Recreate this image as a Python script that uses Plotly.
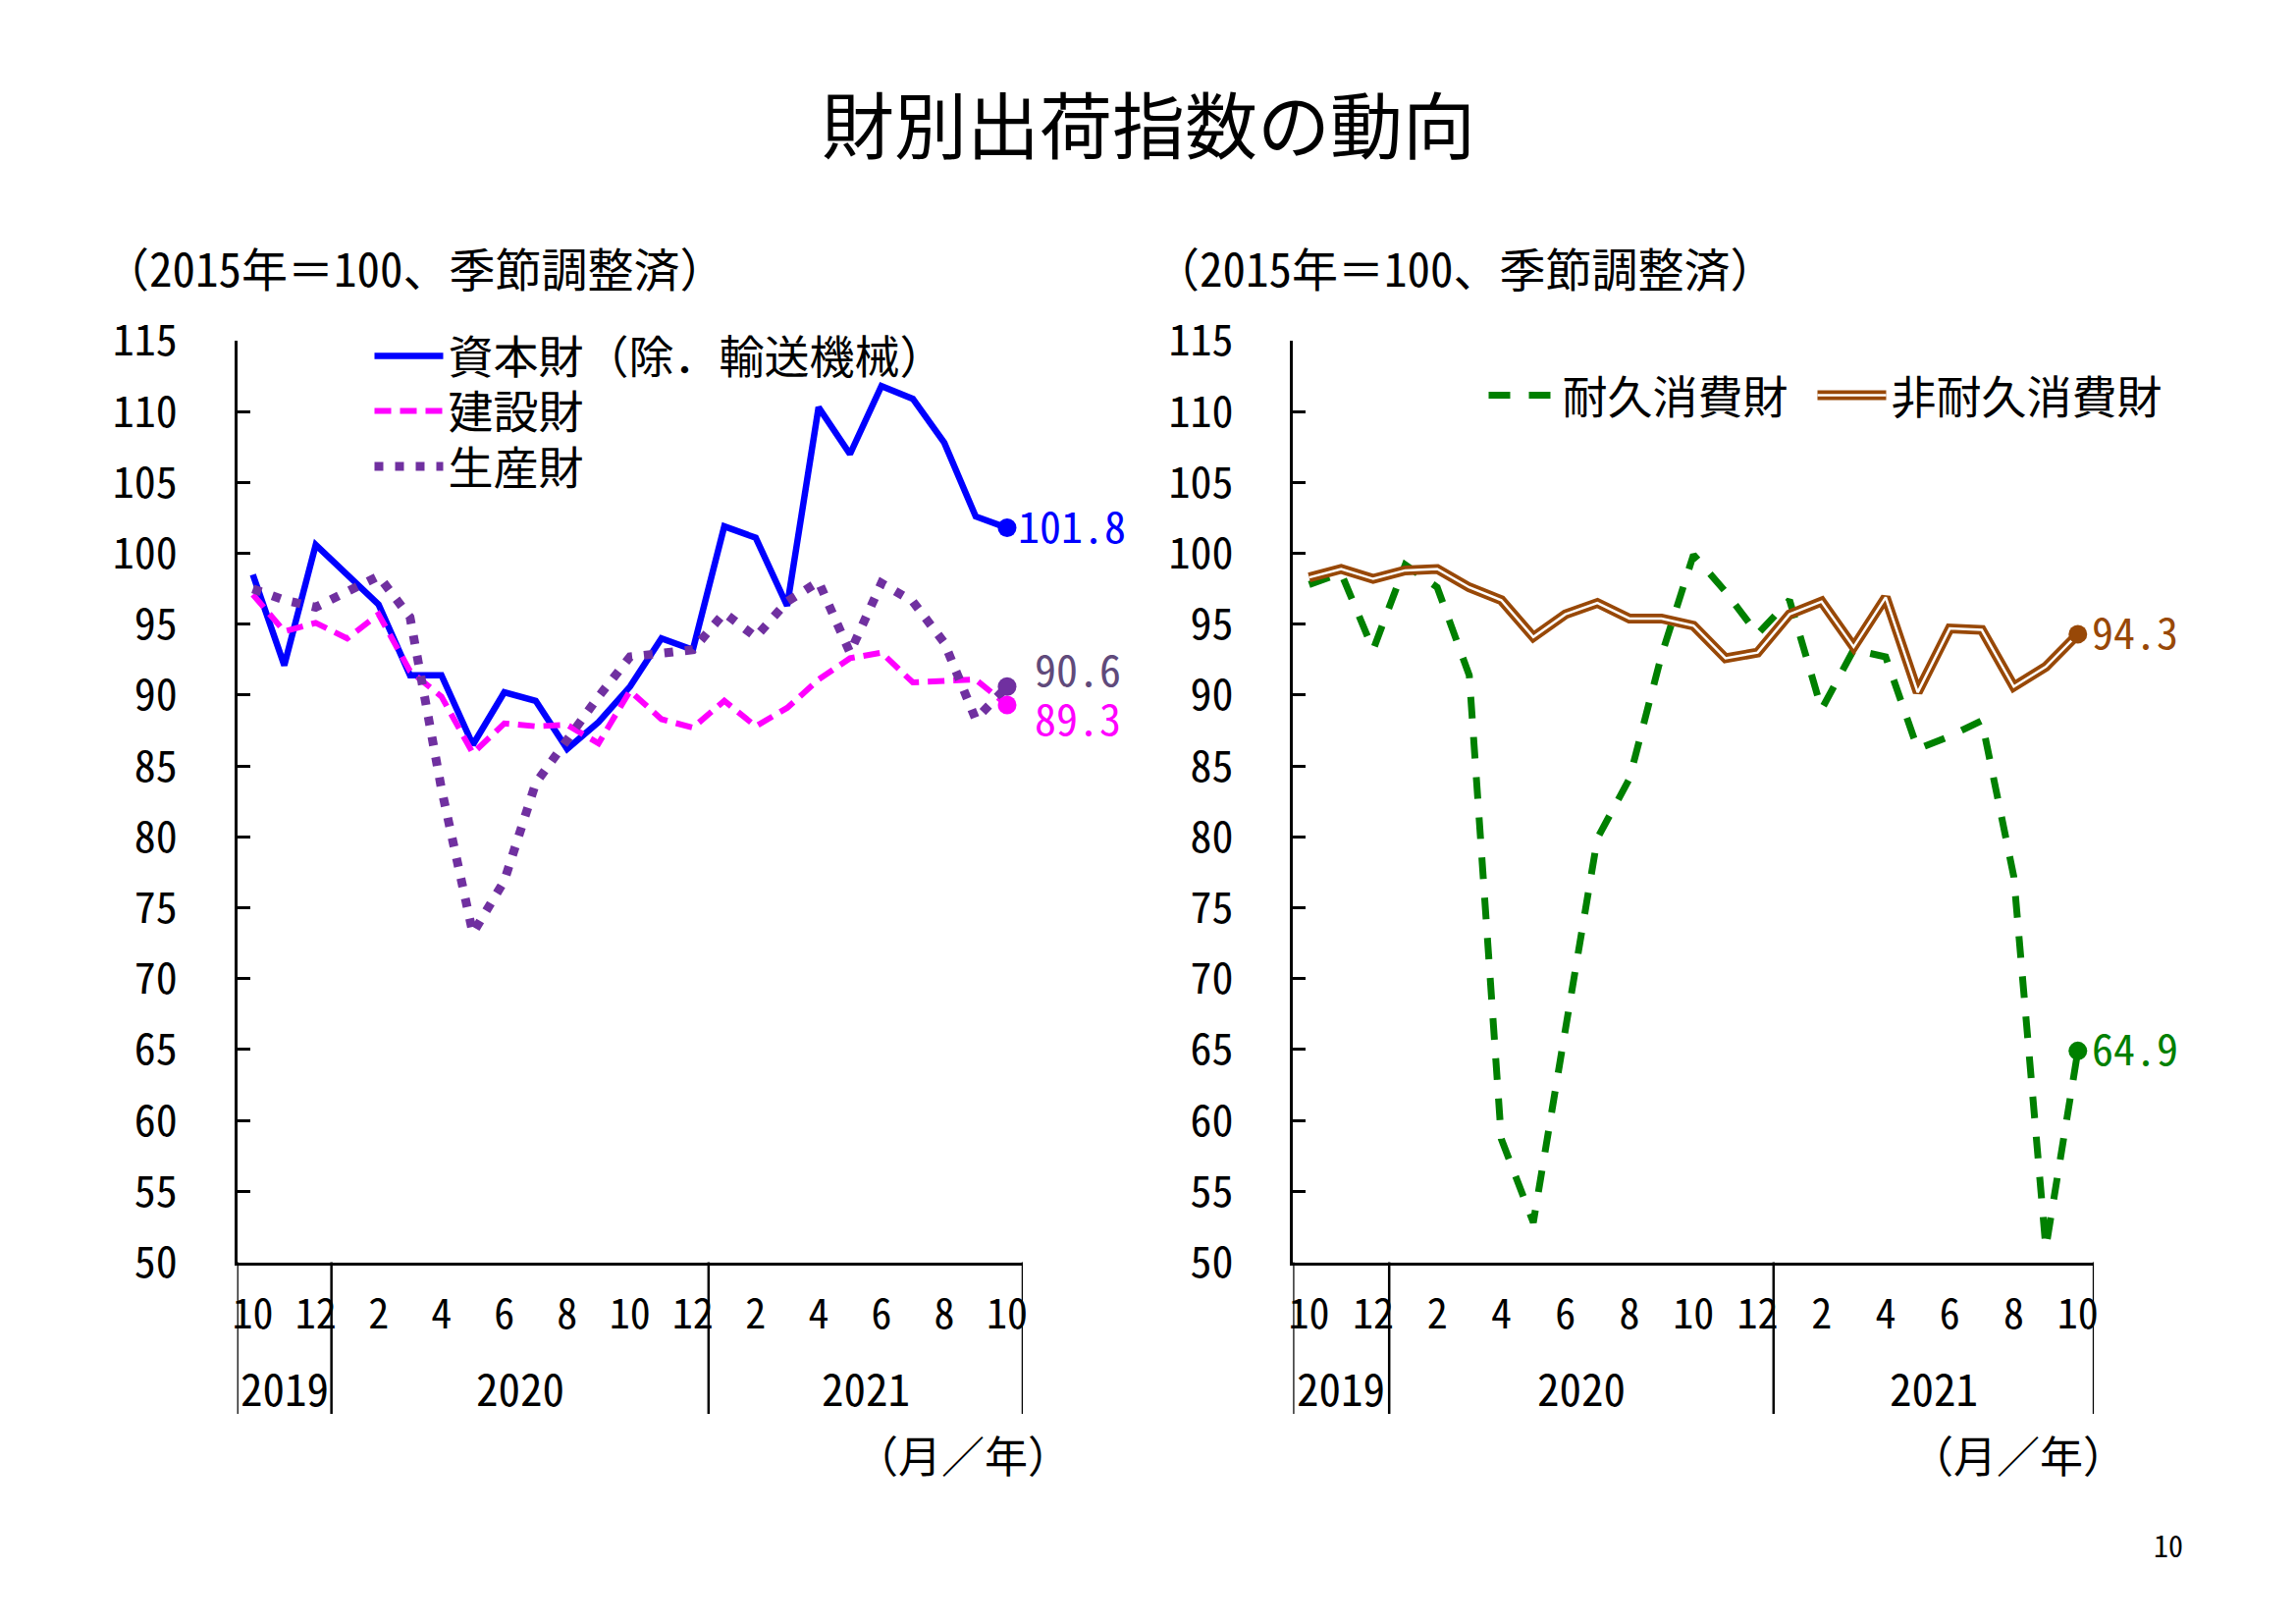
import plotly.graph_objects as go

# ---------------- data ----------------
months = ["2019/10", "2019/11", "2019/12",
          "2020/1", "2020/2", "2020/3", "2020/4", "2020/5", "2020/6",
          "2020/7", "2020/8", "2020/9", "2020/10", "2020/11", "2020/12",
          "2021/1", "2021/2", "2021/3", "2021/4", "2021/5", "2021/6",
          "2021/7", "2021/8", "2021/9", "2021/10"]

capital = [98.5, 92.1, 100.6, 98.5, 96.4, 91.4, 91.4, 86.5, 90.2, 89.6, 86.2, 88.1,
           90.6, 94.0, 93.2, 101.9, 101.1, 96.3, 110.3, 107.0, 111.8, 110.9, 107.8,
           102.6, 101.8]
construction = [97.1, 94.5, 95.1, 94.0, 95.7, 91.7, 89.9, 85.9, 88.0, 87.8, 87.9, 86.6,
                90.3, 88.3, 87.7, 89.6, 87.8, 89.1, 91.1, 92.6, 93.0, 90.9, 91.0,
                91.1, 89.3]
producer = [97.5, 96.7, 96.2, 97.3, 98.4, 95.5, 83.4, 73.2, 76.9, 83.8, 86.9, 89.9,
            92.7, 92.9, 93.2, 95.8, 94.1, 96.6, 98.0, 93.0, 97.9, 96.6, 93.7,
            88.3, 90.6]
durable = [97.8, 98.6, 93.2, 99.2, 97.6, 91.4, 58.7, 52.8, 66.4, 79.9, 84.1, 92.8,
           99.9, 97.3, 94.3, 96.7, 89.0, 93.2, 92.7, 86.2, 87.1, 88.2, 77.2,
           51.0, 64.9]
nondurable = [98.3, 98.9, 98.2, 98.8, 98.9, 97.6, 96.7, 94.1, 95.7, 96.5, 95.4, 95.4,
              94.9, 92.6, 93.0, 95.7, 96.6, 93.4, 96.9, 90.2, 94.7, 94.6, 90.6,
              92.0, 94.3]

names_left = ["資本財（除．輸送機械）", "建設財", "生産財"]
names_right = ["耐久消費財", "非耐久消費財"]

title_text = "財別出荷指数の動向"
subtitle_text = "（2015年＝100、季節調整済）"
unit_text = "（月／年）"
page_text = "10"

# ---------------- styling ----------------
FONT = "Noto Sans Mono CJK JP, Noto Sans CJK JP, sans-serif"
BLUE = "#0000FF"
MAGENTA = "#FF00FF"
PURPLE = "#7030A0"
PURPLE_LBL = "#604A7B"
GREEN = "#008000"
BROWN = "#984807"

W, H = 2339, 1654
def px_x(v):
    return v / W
def px_y(v):
    return 1 - v / H

Y_TOP, Y_BOT = 347.0, 1285.5
LEFT_DOM = [px_x(241.6), px_x(1042.0)]
RIGHT_DOM = [px_x(1317.3), px_x(2133.1)]
Y_DOM = [px_y(Y_BOT), px_y(Y_TOP)]

month_ticktext = [m.split("/")[1] for m in months]
tickvals = months[::2]
ticktext = month_ticktext[::2]

fig = go.Figure()

# left panel
fig.add_trace(go.Scatter(x=months, y=capital, name=names_left[0], mode="lines",
                         line=dict(color=BLUE, width=6.5), xaxis="x", yaxis="y",
                         legend="legend"))
fig.add_trace(go.Scatter(x=months, y=construction, name=names_left[1], mode="lines",
                         line=dict(color=MAGENTA, width=6, dash="17px,9px"),
                         xaxis="x", yaxis="y", legend="legend2"))
fig.add_trace(go.Scatter(x=months, y=producer, name=names_left[2], mode="lines",
                         line=dict(color=PURPLE, width=9, dash="9px,12px"),
                         xaxis="x", yaxis="y", legend="legend3"))
for ser, col in [(capital, BLUE), (producer, PURPLE), (construction, MAGENTA)]:
    fig.add_trace(go.Scatter(x=[months[-1]], y=[ser[-1]], mode="markers",
                             marker=dict(color=col, size=19), showlegend=False,
                             xaxis="x", yaxis="y"))

# right panel
fig.add_trace(go.Scatter(x=months, y=durable, name=names_right[0], mode="lines",
                         line=dict(color=GREEN, width=7, dash="22px,19px"),
                         xaxis="x2", yaxis="y2", legend="legend4"))
fig.add_trace(go.Scatter(x=months, y=nondurable, name=names_right[1], mode="lines",
                         line=dict(color=BROWN, width=10),
                         xaxis="x2", yaxis="y2", legend="legend5"))
fig.add_trace(go.Scatter(x=months, y=nondurable, name="", mode="lines",
                         line=dict(color="white", width=2.5), hoverinfo="skip",
                         xaxis="x2", yaxis="y2", legend="legend6"))
for ser, col in [(durable, GREEN), (nondurable, BROWN)]:
    fig.add_trace(go.Scatter(x=[months[-1]], y=[ser[-1]], mode="markers",
                             marker=dict(color=col, size=19), showlegend=False,
                             xaxis="x2", yaxis="y2"))

# axes
def xaxis_cfg(domain, anchor):
    return dict(domain=domain, anchor=anchor, type="category",
                categoryorder="array", categoryarray=months,
                range=[-0.5, len(months) - 0.5], showline=True, linecolor="black",
                linewidth=3, ticks="", tickvals=tickvals, ticktext=ticktext,
                tickfont=dict(size=42, color="black", family=FONT),
                ticklabelstandoff=14, showgrid=False, zeroline=False, fixedrange=True)

def yaxis_cfg(anchor):
    return dict(domain=Y_DOM, anchor=anchor, range=[50, 115], dtick=5, tick0=50,
                ticks="inside", ticklen=13, tickwidth=3, tickcolor="black",
                showline=True, linecolor="black", linewidth=3,
                tickfont=dict(size=44, color="black", family=FONT),
                ticklabelstandoff=49, showgrid=False, zeroline=False)

shapes = []
annotations = []

# year dividers and year labels
years = [m.split("/")[0] for m in months]
bounds = [-0.5] + [i - 0.5 for i in range(1, len(months)) if years[i] != years[i - 1]] + [len(months) - 0.5]
for xr in ["x", "x2"]:
    for b in bounds:
        shapes.append(dict(type="line", xref=xr, yref="paper", x0=b, x1=b,
                           y0=Y_DOM[0], y1=px_y(1440), line=dict(color="black", width=2.5)))
    for a, b in zip(bounds[:-1], bounds[1:]):
        yr = years[int(a + 0.5)]
        annotations.append(dict(xref=xr, yref="paper", x=(a + b) / 2, y=px_y(1412),
                                text=yr, showarrow=False, xanchor="center", yanchor="middle",
                                font=dict(size=45, color="black", family=FONT)))

# end-value labels
end_labels = [
    ("x", "y", capital[-1], BLUE, 9, 4),
    ("x", "y", producer[-1], PURPLE_LBL, 26, 19),
    ("x", "y", construction[-1], MAGENTA, 26, -12),
    ("x2", "y2", nondurable[-1], BROWN, 12, 4),
    ("x2", "y2", durable[-1], GREEN, 12, 4),
]
for xr, yr_, v, col, xs, ys in end_labels:
    annotations.append(dict(xref=xr, yref=yr_, x=months[-1], y=v, text=f"{v:.1f}",
                            showarrow=False, xanchor="left", yanchor="middle",
                            xshift=xs, yshift=ys,
                            font=dict(size=44, color=col, family=FONT)))

# titles and notes
annotations.append(dict(xref="paper", yref="paper", x=0.5, y=px_y(124), text=title_text,
                        showarrow=False, xanchor="center", yanchor="middle",
                        font=dict(size=74, color="black", family=FONT)))
for xpx in [103, 1173]:
    annotations.append(dict(xref="paper", yref="paper", x=px_x(xpx), y=px_y(271.5),
                            text=subtitle_text, showarrow=False, xanchor="left",
                            yanchor="middle", font=dict(size=47, color="black", family=FONT)))
for xpx in [981, 2056]:
    annotations.append(dict(xref="paper", yref="paper", x=px_x(xpx), y=px_y(1481),
                            text=unit_text, showarrow=False, xanchor="center",
                            yanchor="middle", font=dict(size=44, color="black", family=FONT)))
annotations.append(dict(xref="paper", yref="paper", x=px_x(2209), y=px_y(1572.5),
                        text=page_text, showarrow=False, xanchor="center", yanchor="middle",
                        font=dict(size=30, color="black", family=FONT)))

def leg(xpx, ypx):
    return dict(x=px_x(xpx), y=px_y(ypx), xanchor="left", yanchor="middle",
                font=dict(size=46, color="black", family=FONT),
                bgcolor="rgba(0,0,0,0)", itemwidth=70, borderwidth=0)

fig.update_layout(
    width=W, height=H,
    margin=dict(l=0, r=0, t=0, b=0, pad=0, autoexpand=False),
    paper_bgcolor="white", plot_bgcolor="white",
    font=dict(family=FONT, color="black"),
    xaxis=xaxis_cfg(LEFT_DOM, "y"),
    yaxis=yaxis_cfg("x"),
    xaxis2=xaxis_cfg(RIGHT_DOM, "y2"),
    yaxis2=yaxis_cfg("x2"),
    shapes=shapes,
    annotations=annotations,
    legend=leg(376.5, 362.5),
    legend2=leg(376.5, 418.5),
    legend3=leg(376.5, 475),
    legend4=leg(1511.5, 402.7),
    legend5=leg(1846.5, 402.7),
    legend6=leg(1846.5, 402.7),
    showlegend=True,
)

fig.write_html("out.html", config={"displayModeBar": False},
               post_script="document.body.style.margin='0px';")
